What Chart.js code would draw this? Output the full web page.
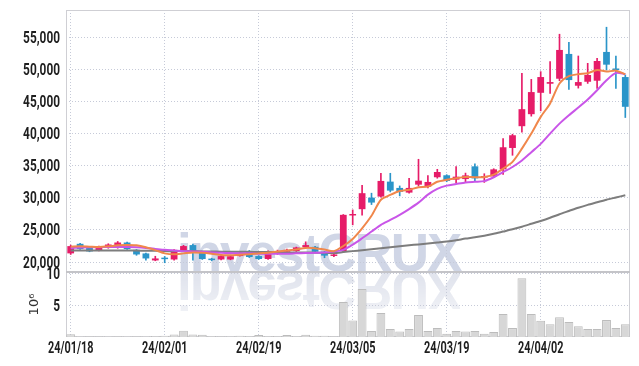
<!DOCTYPE html>
<html><head><meta charset="utf-8">
<script src="https://cdn.jsdelivr.net/npm/chart.js@4/dist/chart.umd.min.js"></script>
<style>
html,body{margin:0;padding:0;background:#fff;}
#wrap{position:relative;width:639px;height:366px;overflow:hidden;background:#fff;}
.wm{position:absolute;left:177px;top:226px;font-family:'Liberation Sans',Arial,sans-serif;font-weight:bold;font-size:53px;line-height:53px;letter-spacing:-2px;color:#d0d6e6;white-space:nowrap;}
.wm.ref{top:227px;color:#e2e5ee;transform-origin:0 45px;transform:scaleY(-1);-webkit-mask-image:linear-gradient(to top, rgba(0,0,0,1) 30%, rgba(0,0,0,0.45) 100%);mask-image:linear-gradient(to top, rgba(0,0,0,1) 30%, rgba(0,0,0,0.45) 100%);}
canvas{position:absolute;left:0;top:0;}
</style></head>
<body>
<div id="wrap">
  <div class="wm">investCRUX</div>
  <div class="wm ref">investCRUX</div>
  <canvas id="c" width="639" height="366"></canvas>
</div>
<script>
const dates = ['24/01/18','24/01/19','24/01/22','24/01/23','24/01/24','24/01/25','24/01/26','24/01/29','24/01/30','24/01/31',
'24/02/01','24/02/02','24/02/05','24/02/06','24/02/07','24/02/08','24/02/13','24/02/14','24/02/15','24/02/16',
'24/02/19','24/02/20','24/02/21','24/02/22','24/02/23','24/02/26','24/02/27','24/02/28','24/02/29','24/03/04',
'24/03/05','24/03/06','24/03/07','24/03/08','24/03/11','24/03/12','24/03/13','24/03/14','24/03/15','24/03/18',
'24/03/19','24/03/20','24/03/21','24/03/22','24/03/25','24/03/26','24/03/27','24/03/28','24/03/29','24/04/01',
'24/04/02','24/04/03','24/04/04','24/04/05','24/04/08','24/04/09','24/04/11','24/04/12','24/04/15','24/04/16'];

const opens  = [21350,22840,22300,21800,22220,22480,23040,21900,21340,20250,
20500,20400,21710,22640,21600,20470,20400,20400,20930,21700,
20930,20470,21290,21600,21700,22330,22370,21600,20950,21700,
27250,28230,30030,30190,32520,31540,30810,32050,31740,33200,
33510,32830,32920,34900,33150,33330,34430,37760,41150,43020,
46350,47760,48540,52400,47450,48070,48230,52710,50000,48800];
const closes = [22480,22020,21650,22400,22730,23040,22020,21180,20560,20560,
20450,21900,22490,21700,20470,20300,20930,20900,21440,20780,
20470,21700,21600,21900,22270,22640,21600,21000,21150,27350,
27350,30720,29260,32630,31120,30920,31540,32670,32470,34020,
32630,33290,33490,33020,33300,34430,37870,39740,43800,46460,
48800,48020,53020,48330,48020,49120,51300,50730,49900,44170];
const highs  = [22640,22900,22400,22500,22850,23200,23100,21950,21400,20900,
20870,21950,22600,22800,21700,20600,21000,20950,21500,21800,
21000,21750,21860,22000,22330,23150,22450,21650,21350,27400,
28120,31960,30720,33820,33820,31850,33040,36000,33450,34440,
33600,34850,33850,35310,33750,34530,39220,39900,49380,48440,
49640,51200,55470,54220,52080,50940,51720,56560,52080,49120];
const lows   = [21180,21950,21600,21750,22150,22150,21950,21050,20300,20200,
19890,20300,21650,20300,20400,20200,20350,20350,20900,20700,
20400,20400,21200,21550,21650,22200,21500,20670,20850,21500,
25790,27300,28950,30090,30920,30300,30720,31850,31540,33050,
32500,32360,32500,32500,32400,33230,33650,36620,40210,42710,
43540,46250,48230,46880,47080,47810,47030,49900,47030,42500];
const volumes = [0.45,0.12,0.1,0.1,0.12,0.1,0.12,0.1,0.12,0.15,
0.2,0.4,1.0,0.4,0.35,0.15,0.1,0.12,0.2,0.15,
0.3,0.15,0.15,0.3,0.15,0.35,0.2,0.2,0.1,5.5,
2.6,7.55,0.95,3.75,1.25,0.85,1.25,3.45,0.95,1.4,
0.5,0.95,0.85,0.95,0.5,0.8,3.6,1.4,9.2,3.6,
2.55,2.0,3.1,2.35,1.7,1.25,1.25,2.65,1.4,2.0];
const ma5  = [22400,22450,22400,22350,22450,22600,22650,22600,22300,21850,
21350,21200,21350,21500,21450,21300,21100,21050,21150,21200,
21350,21450,21650,21800,21950,22200,22150,21950,21700,22500,
23600,25250,27200,29700,30450,31050,31250,31650,31750,32500,
32800,33050,33250,33200,33250,33600,34550,35600,37650,40000,
42600,44700,47800,48950,49250,49400,49900,49650,49800,49250];
const ma20 = [22200,22250,22300,22300,22350,22350,22350,22300,22200,22050,
21900,21800,21700,21650,21600,21500,21450,21400,21350,21350,
21300,21300,21300,21300,21350,21400,21450,21500,21650,21900,
22700,23700,24750,25800,26550,27350,28250,29250,30500,31400,
31900,32150,32400,32500,32600,33200,34000,34800,35800,37100,
38400,40000,41550,42850,44050,45300,46750,48300,49450,49250];
const ma60 = [21800,21800,21800,21800,21800,21800,21800,21800,21750,21750,
21700,21700,21700,21700,21650,21650,21600,21600,21600,21600,
21550,21550,21550,21500,21500,21500,21450,21450,21400,21550,
21700,21850,22000,22150,22300,22450,22600,22750,22900,23050,
23200,23400,23650,23850,24100,24400,24750,25100,25500,25950,
26400,26900,27450,27950,28450,28900,29300,29700,30050,30400];
const priceTicks = [20000,25000,30000,35000,40000,45000,50000,55000];
const volTicks = [5,10];
const dateTickEvery = 10;
const priceRange = [18450, 59240];
const volRange = [0, 10.2];

const UP = '#e61c68', DOWN = '#2b95c9';
const candleColors = opens.map((o, i) => closes[i] >= o ? UP : DOWN);
const gridColor = '#c6cad8';

const framePlugin = {
  id: 'frame',
  beforeDatasetsDraw(chart) {
    const {ctx, chartArea: a, scales} = chart;
    ctx.save();
    ctx.strokeStyle = '#cfcfd4';
    ctx.lineWidth = 1;
    ctx.strokeRect(a.left + 0.5, a.top + 0.5, a.width - 1, a.height - 1);
    ctx.strokeStyle = '#c4c4c8';
    ctx.lineWidth = 2;
    ctx.beginPath();
    ctx.moveTo(a.left, scales.y.bottom);
    ctx.lineTo(a.right, scales.y.bottom);
    ctx.stroke();
    ctx.restore();
  }
};

// tick labels drawn in a narrow (horizontally condensed) face, positioned by the chart's own scales
const labelPlugin = {
  id: 'condensedLabels',
  afterDraw(chart) {
    const {ctx, scales} = chart;
    const put = (txt, x, y, align, sx) => {
      ctx.save();
      ctx.translate(x, y);
      ctx.scale(sx, 1);
      ctx.textAlign = align;
      ctx.fillText(txt, 0, 0);
      ctx.restore();
    };
    ctx.save();
    ctx.fillStyle = '#1e1e1e';
    ctx.font = 'bold 16px Roboto, sans-serif';
    ctx.textBaseline = 'middle';
    scales.y.ticks.forEach(t => put(t.value.toLocaleString('en-US'), 60, scales.y.getPixelForValue(t.value) + 1.5, 'right', 0.74));
    scales.vol.ticks.forEach(t => put(String(t.value), 60, scales.vol.getPixelForValue(t.value) + 1.5, 'right', 0.74));
    scales.x.ticks.forEach(t => {
      if (t.value % dateTickEvery === 0) put(dates[t.value], scales.x.getPixelForValue(t.value), 349, 'center', 0.68);
    });
    ctx.restore();
  }
};

new Chart(document.getElementById('c'), {
  type: 'bar',
  data: {
    labels: dates,
    datasets: [
      {type: 'line', data: ma5, yAxisID: 'y', borderColor: '#f0874b', borderWidth: 2, pointRadius: 0, tension: 0.25, order: 0},
      {type: 'line', data: ma20, yAxisID: 'y', borderColor: '#c955e8', borderWidth: 2, pointRadius: 0, tension: 0.25, order: 0},
      {type: 'line', data: ma60, yAxisID: 'y', borderColor: '#7d7d7d', borderWidth: 2, pointRadius: 0, tension: 0.25, order: 0},
      {data: opens.map((o, i) => [o, closes[i]]), yAxisID: 'y', backgroundColor: candleColors, grouped: false,
       barPercentage: 0.72, categoryPercentage: 1, minBarLength: 1.5, order: 1},
      {data: lows.map((l, i) => [l, highs[i]]), yAxisID: 'y', backgroundColor: candleColors, grouped: false,
       barThickness: 1, order: 2},
      {data: volumes, yAxisID: 'vol', backgroundColor: '#d7d7d7', borderColor: '#bcbcbc', borderWidth: 1,
       grouped: false, barPercentage: 0.94, categoryPercentage: 1, order: 3}
    ]
  },
  options: {
    responsive: false,
    animation: false,
    devicePixelRatio: 1,
    layout: {padding: {left: 0, right: 9, top: 10, bottom: 0}},
    plugins: {legend: {display: false}, tooltip: {enabled: false}},
    scales: {
      x: {
        type: 'category', offset: true,
        grid: {offset: false, drawTicks: false, color: c => (c.index % dateTickEvery === 0 ? gridColor : 'transparent')},
        border: {display: false, dash: [1, 2]},
        ticks: {display: false, autoSkip: false, maxRotation: 0},
        afterFit: s => { s.height = 29; }
      },
      vol: {
        type: 'linear', position: 'left', stack: 'panes', stackWeight: 65,
        min: volRange[0], max: volRange[1],
        afterBuildTicks: s => { s.ticks = volTicks.map(v => ({value: v})); },
        grid: {drawTicks: false, color: gridColor},
        border: {display: false, dash: [1, 2]},
        ticks: {display: false},
        title: {display: true, text: '10⁶', color: '#333', font: {family: "'DejaVu Sans',sans-serif", size: 13},
                padding: {top: 27, bottom: 0}},
        afterFit: s => { s.width = 66; }
      },
      y: {
        type: 'linear', position: 'left', stack: 'panes', stackWeight: 262,
        min: priceRange[0], max: priceRange[1],
        afterBuildTicks: s => { s.ticks = priceTicks.map(v => ({value: v})); },
        grid: {drawTicks: false, color: gridColor},
        border: {display: false, dash: [1, 2]},
        ticks: {display: false},
        afterFit: s => { s.width = 66; }
      }
    }
  },
  plugins: [framePlugin, labelPlugin]
});
</script>
</body></html>
